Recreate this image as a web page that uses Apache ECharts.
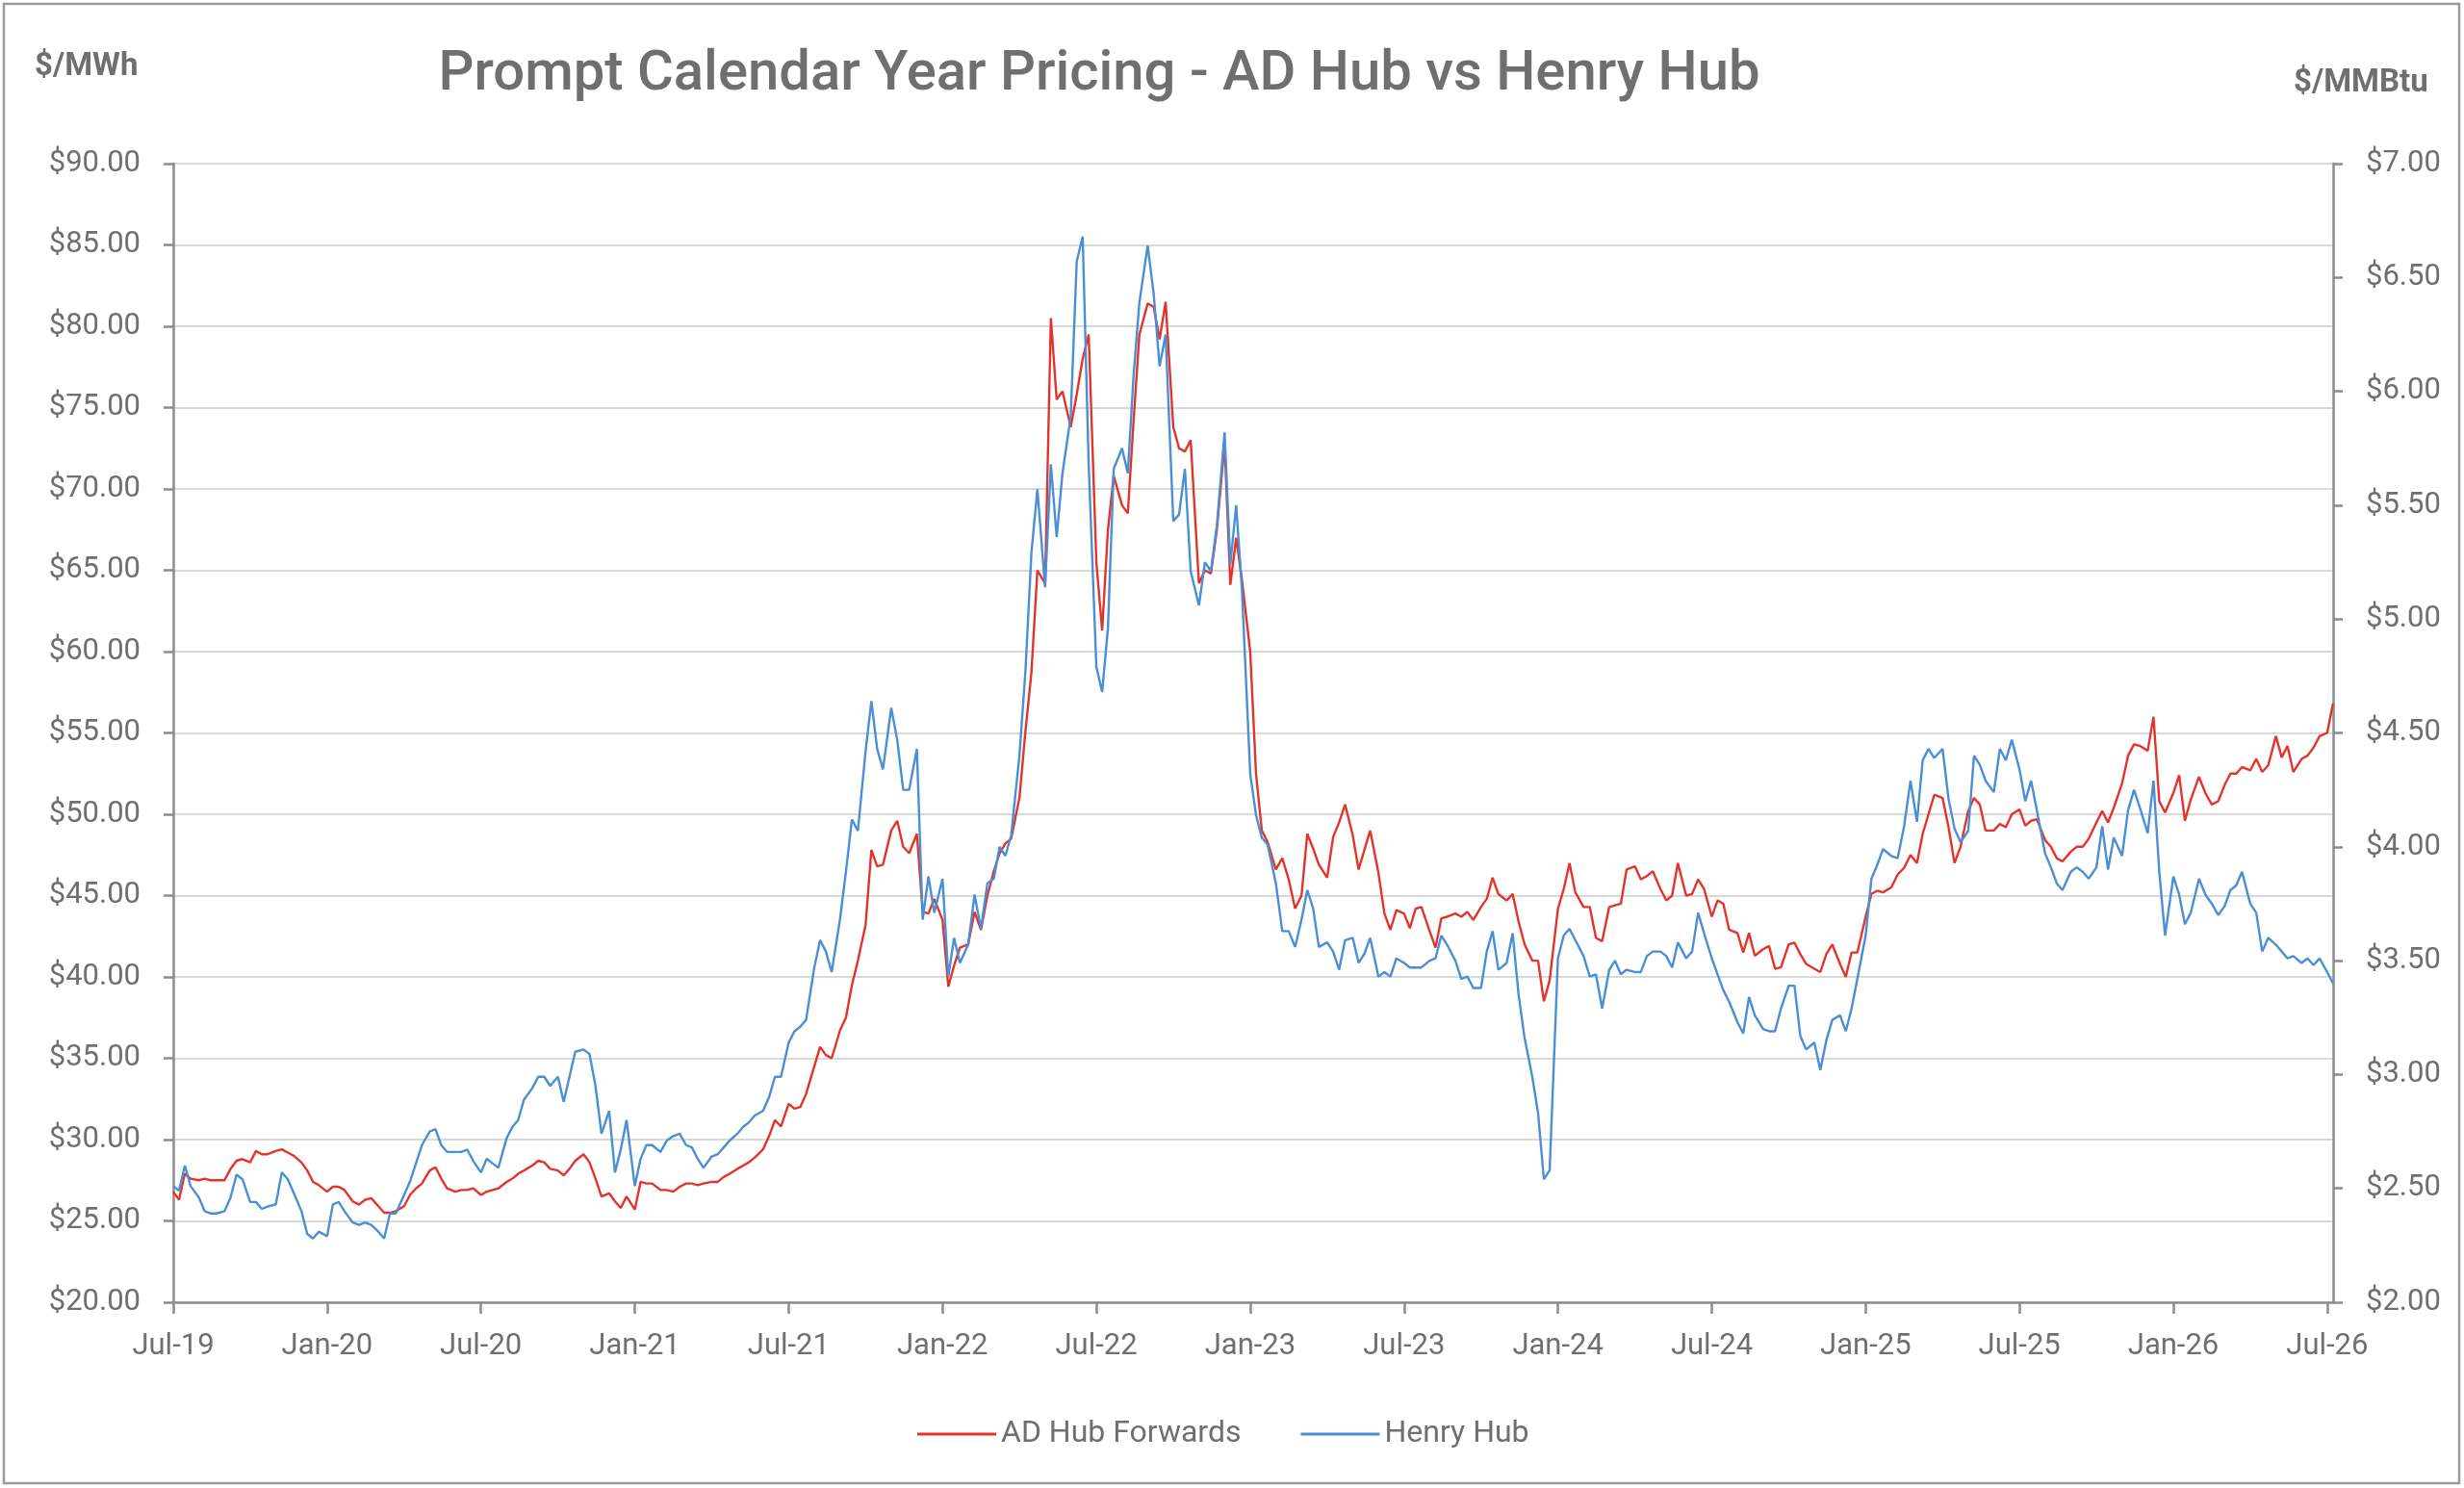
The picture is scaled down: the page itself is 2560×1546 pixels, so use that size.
<!DOCTYPE html>
<html>
<head>
<meta charset="utf-8">
<title>Prompt Calendar Year Pricing - AD Hub vs Henry Hub</title>
<script src="https://cdn.jsdelivr.net/npm/echarts@6.0.0/dist/echarts.min.js"></script>
<style>
  html, body { margin: 0; padding: 0; background: #ffffff; }
  #chart { width: 2560px; height: 1546px; }
</style>
</head>
<body>
<div id="chart"></div>
<script>
// months covered by the chart, sampled on four days of each month
const months = [
  '2019-07', '2019-08', '2019-09', '2019-10', '2019-11', '2019-12',
  '2020-01', '2020-02', '2020-03', '2020-04', '2020-05', '2020-06', '2020-07', '2020-08', '2020-09', '2020-10', '2020-11', '2020-12',
  '2021-01', '2021-02', '2021-03', '2021-04', '2021-05', '2021-06', '2021-07', '2021-08', '2021-09', '2021-10', '2021-11', '2021-12',
  '2022-01', '2022-02', '2022-03', '2022-04', '2022-05', '2022-06', '2022-07', '2022-08', '2022-09', '2022-10', '2022-11', '2022-12',
  '2023-01', '2023-02', '2023-03', '2023-04', '2023-05', '2023-06', '2023-07', '2023-08', '2023-09', '2023-10', '2023-11', '2023-12',
  '2024-01', '2024-02', '2024-03', '2024-04', '2024-05', '2024-06', '2024-07', '2024-08', '2024-09', '2024-10', '2024-11', '2024-12',
  '2025-01', '2025-02', '2025-03', '2025-04', '2025-05', '2025-06', '2025-07', '2025-08', '2025-09', '2025-10', '2025-11', '2025-12',
  '2026-01', '2026-02', '2026-03', '2026-04', '2026-05', '2026-06', '2026-07'
];
const sampleDays = [1, 8, 15, 22];

const tickLabels = ['Jul-19', 'Jan-20', 'Jul-20', 'Jan-21', 'Jul-21', 'Jan-22', 'Jul-22', 'Jan-23',
  'Jul-23', 'Jan-24', 'Jul-24', 'Jan-25', 'Jul-25', 'Jan-26', 'Jul-26'];

// AD Hub forwards, $/MWh (left axis)
const adHub = [
  26.8, 26.3, 27.9, 27.6, 27.5, 27.6, 27.5, 27.5, 27.5, 28.2, 28.7, 28.8, 28.6, 29.3, 29.1, 29.1, 29.3, 29.4, 29.2, 29.0, 28.6, 28.1, 27.4, 27.2,
  26.8, 27.1, 27.1, 26.9, 26.2, 26.0, 26.3, 26.4, 25.9, 25.5, 25.5, 25.6, 25.9, 26.6, 27.0, 27.3, 28.1, 28.3, 27.6, 27.0, 26.8, 26.9, 26.9, 27.0,
  26.6, 26.8, 26.9, 27.0, 27.4, 27.6, 27.9, 28.1, 28.4, 28.7, 28.6, 28.2, 28.1, 27.8, 28.2, 28.7, 29.1, 28.6, 27.6, 26.5, 26.7, 26.2, 25.8, 26.5,
  25.7, 27.4, 27.3, 27.3, 26.9, 26.9, 26.8, 27.1, 27.3, 27.3, 27.2, 27.3, 27.4, 27.4, 27.7, 27.9, 28.2, 28.4, 28.6, 28.9, 29.4, 30.2, 31.2, 30.8,
  32.2, 31.9, 32.0, 32.8, 34.5, 35.7, 35.2, 35.0, 36.7, 37.5, 39.5, 41.0, 43.2, 47.8, 46.8, 46.9, 49.0, 49.6, 48.0, 47.6, 48.8, 44.0, 43.9, 44.8,
  43.5, 39.4, 40.7, 41.8, 42.0, 44.0, 42.9, 45.0, 46.5, 47.6, 48.2, 48.5, 51.0, 55.1, 58.7, 65.0, 64.2, 80.5, 75.5, 76.0, 73.8, 75.8, 78.0, 79.5,
  65.5, 61.3, 67.5, 70.8, 69.0, 68.5, 74.2, 79.5, 81.4, 81.2, 79.2, 81.5, 73.8, 72.5, 72.3, 73.0, 64.2, 65.0, 64.8, 67.5, 72.8, 64.1, 67.0, 64.4,
  60.0, 52.5, 49.0, 48.3, 46.6, 47.3, 46.0, 44.2, 45.0, 48.8, 47.9, 46.9, 46.1, 48.6, 49.5, 50.6, 48.7, 46.6, 47.8, 49.0, 46.4, 43.9, 42.9, 44.1,
  43.9, 43.0, 44.2, 44.3, 42.8, 41.8, 43.6, 43.7, 43.9, 43.7, 44.0, 43.5, 44.3, 44.8, 46.1, 45.1, 44.7, 45.1, 43.4, 42.0, 41.0, 41.0, 38.5, 39.8,
  44.2, 45.4, 47.0, 45.2, 44.3, 44.3, 42.4, 42.2, 44.3, 44.4, 44.5, 46.6, 46.8, 46.0, 46.2, 46.5, 45.4, 44.7, 45.0, 47.0, 45.0, 45.1, 46.0, 45.4,
  43.7, 44.7, 44.5, 42.9, 42.7, 41.5, 42.7, 41.3, 41.7, 41.9, 40.5, 40.6, 42.0, 42.1, 41.4, 40.8, 40.5, 40.3, 41.4, 42.0, 40.8, 40.0, 41.5, 41.5,
  43.7, 45.1, 45.3, 45.2, 45.5, 46.3, 46.7, 47.5, 47.0, 48.8, 50.0, 51.2, 51.0, 49.2, 47.0, 48.0, 50.2, 51.0, 50.6, 49.0, 49.0, 49.4, 49.2, 50.0,
  50.3, 49.3, 49.6, 49.7, 48.4, 48.0, 47.3, 47.1, 47.7, 48.0, 48.0, 48.5, 49.5, 50.2, 49.5, 50.4, 51.9, 53.6, 54.3, 54.2, 53.9, 56.0, 50.8, 50.1,
  51.3, 52.4, 49.6, 50.9, 52.3, 51.3, 50.6, 50.8, 51.8, 52.5, 52.5, 52.9, 52.7, 53.4, 52.6, 53.0, 54.8, 53.5, 54.2, 52.6, 53.4, 53.6, 54.1, 54.8,
  55.0, 56.8
];

// Henry Hub, $/MMBtu (right axis)
const henryHub = [
  2.51, 2.49, 2.60, 2.51, 2.46, 2.40, 2.39, 2.39, 2.40, 2.46, 2.56, 2.54, 2.44, 2.44, 2.41, 2.42, 2.43, 2.57, 2.54, 2.48, 2.40, 2.30, 2.28, 2.31,
  2.29, 2.43, 2.44, 2.40, 2.35, 2.34, 2.35, 2.34, 2.31, 2.28, 2.39, 2.39, 2.47, 2.53, 2.61, 2.69, 2.75, 2.76, 2.69, 2.66, 2.66, 2.66, 2.67, 2.62,
  2.57, 2.63, 2.61, 2.59, 2.72, 2.77, 2.80, 2.89, 2.94, 2.99, 2.99, 2.95, 2.99, 2.88, 2.99, 3.10, 3.11, 3.09, 2.95, 2.74, 2.84, 2.57, 2.67, 2.80,
  2.51, 2.63, 2.69, 2.69, 2.66, 2.71, 2.73, 2.74, 2.69, 2.68, 2.63, 2.59, 2.64, 2.65, 2.68, 2.71, 2.74, 2.77, 2.79, 2.82, 2.84, 2.90, 2.99, 2.99,
  3.14, 3.19, 3.21, 3.24, 3.47, 3.59, 3.54, 3.45, 3.68, 3.89, 4.12, 4.07, 4.42, 4.64, 4.43, 4.34, 4.61, 4.47, 4.25, 4.25, 4.43, 3.68, 3.87, 3.71,
  3.86, 3.43, 3.60, 3.49, 3.57, 3.79, 3.64, 3.84, 3.86, 4.00, 3.96, 4.05, 4.40, 4.77, 5.29, 5.57, 5.14, 5.68, 5.36, 5.64, 5.89, 6.57, 6.68, 5.68,
  4.79, 4.68, 4.96, 5.66, 5.75, 5.64, 6.07, 6.39, 6.64, 6.43, 6.11, 6.25, 5.43, 5.46, 5.66, 5.21, 5.06, 5.25, 5.21, 5.41, 5.82, 5.24, 5.50, 5.13,
  4.32, 4.14, 4.04, 4.01, 3.84, 3.63, 3.63, 3.56, 3.68, 3.81, 3.73, 3.56, 3.58, 3.54, 3.46, 3.59, 3.60, 3.49, 3.53, 3.60, 3.43, 3.45, 3.43, 3.51,
  3.49, 3.47, 3.47, 3.47, 3.50, 3.51, 3.61, 3.57, 3.50, 3.42, 3.43, 3.38, 3.38, 3.54, 3.63, 3.46, 3.49, 3.62, 3.35, 3.16, 2.99, 2.83, 2.54, 2.58,
  3.51, 3.61, 3.64, 3.59, 3.52, 3.43, 3.44, 3.29, 3.46, 3.50, 3.44, 3.46, 3.45, 3.45, 3.52, 3.54, 3.54, 3.52, 3.47, 3.58, 3.51, 3.54, 3.71, 3.62,
  3.51, 3.44, 3.37, 3.32, 3.23, 3.18, 3.34, 3.26, 3.20, 3.19, 3.19, 3.29, 3.39, 3.39, 3.17, 3.11, 3.14, 3.02, 3.15, 3.24, 3.26, 3.19, 3.29, 3.42,
  3.61, 3.86, 3.92, 3.99, 3.96, 3.95, 4.09, 4.29, 4.11, 4.38, 4.43, 4.39, 4.43, 4.21, 4.08, 4.02, 4.07, 4.40, 4.36, 4.29, 4.24, 4.43, 4.38, 4.47,
  4.34, 4.20, 4.29, 4.16, 3.97, 3.91, 3.84, 3.81, 3.89, 3.91, 3.89, 3.86, 3.91, 4.09, 3.90, 4.04, 3.96, 4.16, 4.25, 4.17, 4.06, 4.29, 3.89, 3.61,
  3.87, 3.79, 3.66, 3.71, 3.86, 3.79, 3.75, 3.70, 3.74, 3.81, 3.83, 3.89, 3.75, 3.71, 3.54, 3.60, 3.57, 3.54, 3.51, 3.52, 3.49, 3.51, 3.48, 3.51,
  3.45, 3.40
];

const textColor = '#6f6f6f';
const fontFamily = 'Roboto, "Noto Sans", sans-serif';

// months since Jul-2019 (fractional), used as the x position
function monthPos(ym, day) {
  const y = +ym.slice(0, 4);
  const m = +ym.slice(5, 7);
  const days = new Date(y, m, 0).getDate();
  return (y - 2019) * 12 + (m - 7) + (day - 1) / days;
}

function toPoints(values) {
  return values.map((v, i) => [monthPos(months[Math.floor(i / 4)], sampleDays[i % 4]), v]);
}

const tickPos = tickLabels.map((t, i) => i * 6);

const chart = echarts.init(document.getElementById('chart'), null, { renderer: 'canvas' });

const option = {
  backgroundColor: '#ffffff',
  animation: false,
  title: {
    text: 'Prompt Calendar Year Pricing - AD Hub vs Henry Hub',
    left: 1142,
    top: 42,
    textAlign: 'center',
    padding: 0,
    textStyle: {
      color: textColor,
      fontFamily: fontFamily,
      fontWeight: 500,
      fontSize: 58,
      lineHeight: 72
    }
  },
  legend: {
    left: 948,
    top: 1469,
    icon: 'rect',
    itemWidth: 82,
    itemHeight: 3,
    itemGap: 62,
    textStyle: { color: textColor, fontFamily: fontFamily, fontSize: 32 },
    data: ['AD Hub Forwards', 'Henry Hub']
  },
  grid: { left: 180, right: 136, top: 170, bottom: 193 },
  xAxis: {
    type: 'value',
    min: 0,
    max: 84.23,
    interval: 6,
    splitLine: { show: false },
    axisLine: { show: true, lineStyle: { color: '#8c8c8c', width: 2.5 } },
    axisTick: { show: true, length: 12, customValues: tickPos, lineStyle: { color: '#8c8c8c', width: 2.5 } },
    axisLabel: {
      customValues: tickPos,
      margin: 31,
      color: textColor,
      fontFamily: fontFamily,
      fontSize: 31,
      formatter: function (v) {
        const i = Math.round(v / 6);
        return Math.abs(v - i * 6) < 1e-6 ? tickLabels[i] : '';
      }
    }
  },
  yAxis: [
    {
      type: 'value',
      min: 20,
      max: 90,
      interval: 5,
      position: 'left',
      axisLine: { show: true, lineStyle: { color: '#8c8c8c', width: 2.5 } },
      axisTick: { show: true, length: 10, lineStyle: { color: '#8c8c8c', width: 2.5 } },
      splitLine: { show: true, lineStyle: { color: '#d9d9d9', width: 2 } },
      axisLabel: {
        margin: 34,
        color: textColor,
        fontFamily: fontFamily,
        fontSize: 31,
        formatter: v => '$' + v.toFixed(2)
      }
    },
    {
      type: 'value',
      min: 2,
      max: 7,
      interval: 0.5,
      position: 'right',
      axisLine: { show: true, lineStyle: { color: '#8c8c8c', width: 2.5 } },
      axisTick: { show: true, length: 10, lineStyle: { color: '#8c8c8c', width: 2.5 } },
      splitLine: { show: false },
      axisLabel: {
        margin: 34,
        color: textColor,
        fontFamily: fontFamily,
        fontSize: 31,
        formatter: v => '$' + v.toFixed(2)
      }
    }
  ],
  graphic: [
    {
      type: 'rect',
      shape: { x: 4, y: 4, width: 2551, height: 1537 },
      style: { fill: 'none', stroke: '#9a9a9a', lineWidth: 2.5 },
      silent: true
    },
    {
      type: 'text',
      x: 36,
      y: 70,
      style: {
        text: '$/MWh',
        fill: textColor,
        font: 'bold 33px ' + fontFamily,
        textVerticalAlign: 'middle'
      }
    },
    {
      type: 'text',
      x: 2383,
      y: 87,
      style: {
        text: '$/MMBtu',
        fill: textColor,
        font: 'bold 33px ' + fontFamily,
        textVerticalAlign: 'middle'
      }
    }
  ],
  series: [
    {
      name: 'AD Hub Forwards',
      type: 'line',
      yAxisIndex: 0,
      showSymbol: false,
      color: '#e2342b',
      lineStyle: { color: '#e2342b', width: 2.4 },
      data: toPoints(adHub)
    },
    {
      name: 'Henry Hub',
      type: 'line',
      yAxisIndex: 1,
      showSymbol: false,
      color: '#4a8fd6',
      lineStyle: { color: '#4a8fd6', width: 2.4 },
      data: toPoints(henryHub)
    }
  ]
};

chart.setOption(option);
</script>
</body>
</html>
